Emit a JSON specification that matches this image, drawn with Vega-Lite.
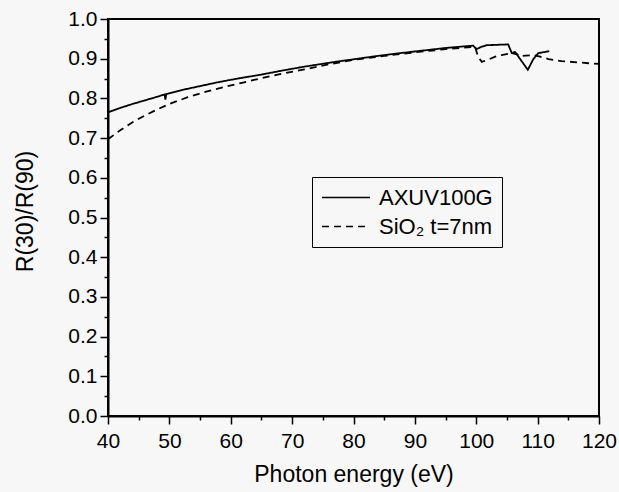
{
  "$schema": "https://vega.github.io/schema/vega-lite/v6.json",
  "width": 491,
  "height": 397,
  "autosize": {"type": "none"},
  "padding": {"left": 108, "top": 19, "right": 20, "bottom": 76},
  "background": "#f7f7f7",
  "config": {
    "view": {"stroke": "black", "strokeWidth": 2},
    "font": "Liberation Sans",
    "axis": {
      "domainColor": "black", "domainWidth": 2,
      "tickColor": "black", "tickWidth": 1.5,
      "labelColor": "black", "titleColor": "black",
      "grid": false,
      "labelFont": "Liberation Sans", "titleFont": "Liberation Sans",
      "labelFontSize": 21, "titleFontSize": 23, "titleFontWeight": "normal"
    }
  },
  "data": {"values": [
    {"series": "AXUV100G", "energy": 40, "ratio": 0.765},
    {"series": "AXUV100G", "energy": 42, "ratio": 0.776},
    {"series": "AXUV100G", "energy": 44, "ratio": 0.786},
    {"series": "AXUV100G", "energy": 46, "ratio": 0.795},
    {"series": "AXUV100G", "energy": 48, "ratio": 0.804},
    {"series": "AXUV100G", "energy": 49.2, "ratio": 0.810},
    {"series": "AXUV100G", "energy": 49.35, "ratio": 0.797},
    {"series": "AXUV100G", "energy": 49.5, "ratio": 0.811},
    {"series": "AXUV100G", "energy": 52, "ratio": 0.821},
    {"series": "AXUV100G", "energy": 55, "ratio": 0.831},
    {"series": "AXUV100G", "energy": 58, "ratio": 0.841},
    {"series": "AXUV100G", "energy": 61.5, "ratio": 0.851},
    {"series": "AXUV100G", "energy": 65, "ratio": 0.860},
    {"series": "AXUV100G", "energy": 68, "ratio": 0.869},
    {"series": "AXUV100G", "energy": 72, "ratio": 0.880},
    {"series": "AXUV100G", "energy": 77, "ratio": 0.892},
    {"series": "AXUV100G", "energy": 83, "ratio": 0.905},
    {"series": "AXUV100G", "energy": 87, "ratio": 0.913},
    {"series": "AXUV100G", "energy": 91, "ratio": 0.920},
    {"series": "AXUV100G", "energy": 95, "ratio": 0.927},
    {"series": "AXUV100G", "energy": 99.5, "ratio": 0.933},
    {"series": "AXUV100G", "energy": 100.05, "ratio": 0.924},
    {"series": "AXUV100G", "energy": 100.7, "ratio": 0.929},
    {"series": "AXUV100G", "energy": 101.7, "ratio": 0.934},
    {"series": "AXUV100G", "energy": 105.2, "ratio": 0.936},
    {"series": "AXUV100G", "energy": 105.8, "ratio": 0.914},
    {"series": "AXUV100G", "energy": 106.6, "ratio": 0.911},
    {"series": "AXUV100G", "energy": 108.4, "ratio": 0.872},
    {"series": "AXUV100G", "energy": 109.3, "ratio": 0.899},
    {"series": "AXUV100G", "energy": 110.1, "ratio": 0.914},
    {"series": "AXUV100G", "energy": 111.9, "ratio": 0.919},
    {"series": "SiO₂ t=7nm", "energy": 40, "ratio": 0.697},
    {"series": "SiO₂ t=7nm", "energy": 42, "ratio": 0.720},
    {"series": "SiO₂ t=7nm", "energy": 44, "ratio": 0.740},
    {"series": "SiO₂ t=7nm", "energy": 46, "ratio": 0.757},
    {"series": "SiO₂ t=7nm", "energy": 48, "ratio": 0.772},
    {"series": "SiO₂ t=7nm", "energy": 50, "ratio": 0.786},
    {"series": "SiO₂ t=7nm", "energy": 53, "ratio": 0.803},
    {"series": "SiO₂ t=7nm", "energy": 56, "ratio": 0.817},
    {"series": "SiO₂ t=7nm", "energy": 59, "ratio": 0.829},
    {"series": "SiO₂ t=7nm", "energy": 62, "ratio": 0.840},
    {"series": "SiO₂ t=7nm", "energy": 65, "ratio": 0.851},
    {"series": "SiO₂ t=7nm", "energy": 68, "ratio": 0.861},
    {"series": "SiO₂ t=7nm", "energy": 72, "ratio": 0.873},
    {"series": "SiO₂ t=7nm", "energy": 76, "ratio": 0.886},
    {"series": "SiO₂ t=7nm", "energy": 80, "ratio": 0.897},
    {"series": "SiO₂ t=7nm", "energy": 85, "ratio": 0.907},
    {"series": "SiO₂ t=7nm", "energy": 90, "ratio": 0.916},
    {"series": "SiO₂ t=7nm", "energy": 95, "ratio": 0.924},
    {"series": "SiO₂ t=7nm", "energy": 99.8, "ratio": 0.930},
    {"series": "SiO₂ t=7nm", "energy": 100.3, "ratio": 0.905},
    {"series": "SiO₂ t=7nm", "energy": 100.9, "ratio": 0.892},
    {"series": "SiO₂ t=7nm", "energy": 102, "ratio": 0.898},
    {"series": "SiO₂ t=7nm", "energy": 103.1, "ratio": 0.905},
    {"series": "SiO₂ t=7nm", "energy": 104.1, "ratio": 0.909},
    {"series": "SiO₂ t=7nm", "energy": 105.5, "ratio": 0.913},
    {"series": "SiO₂ t=7nm", "energy": 106.3, "ratio": 0.917},
    {"series": "SiO₂ t=7nm", "energy": 107, "ratio": 0.906},
    {"series": "SiO₂ t=7nm", "energy": 108, "ratio": 0.908},
    {"series": "SiO₂ t=7nm", "energy": 109.3, "ratio": 0.909},
    {"series": "SiO₂ t=7nm", "energy": 110.4, "ratio": 0.905},
    {"series": "SiO₂ t=7nm", "energy": 111.8, "ratio": 0.899},
    {"series": "SiO₂ t=7nm", "energy": 113.9, "ratio": 0.894},
    {"series": "SiO₂ t=7nm", "energy": 116.4, "ratio": 0.891},
    {"series": "SiO₂ t=7nm", "energy": 118.8, "ratio": 0.888},
    {"series": "SiO₂ t=7nm", "energy": 120, "ratio": 0.887}
  ]},
  "mark": {"type": "line", "color": "black", "strokeWidth": 1.8},
  "encoding": {
    "x": {
      "field": "energy", "type": "quantitative",
      "scale": {"domain": [40, 120], "nice": false, "zero": false},
      "axis": {
        "title": "Photon energy (eV)",
        "values": [40, 45, 50, 55, 60, 65, 70, 75, 80, 85, 90, 95, 100, 105, 110, 115, 120],
        "labelExpr": "datum.value % 10 === 0 ? datum.label : ''",
        "tickSize": {"expr": "datum.value % 10 === 0 ? 8 : 4"},
        "labelFlush": false, "labelOverlap": false, "labelPadding": 6,
        "titleY": 65, "titleBaseline": "alphabetic"
      }
    },
    "y": {
      "field": "ratio", "type": "quantitative",
      "scale": {"domain": [0, 1], "nice": false},
      "axis": {
        "title": "R(30)/R(90)",
        "values": [0, 0.05, 0.1, 0.15, 0.2, 0.25, 0.3, 0.35, 0.4, 0.45, 0.5, 0.55, 0.6, 0.65, 0.7, 0.75, 0.8, 0.85, 0.9, 0.95, 1],
        "labelExpr": "round(datum.value * 100) % 10 === 0 ? format(datum.value, '.1f') : ''",
        "tickSize": {"expr": "round(datum.value * 100) % 10 === 0 ? 8 : 4"},
        "labelOverlap": false, "labelPadding": 3,
        "titleX": -76, "titleY": 192, "titleBaseline": "alphabetic", "titleAlign": "center"
      }
    },
    "strokeDash": {
      "field": "series", "type": "nominal",
      "scale": {"domain": ["AXUV100G", "SiO₂ t=7nm"], "range": [[1, 0], [7, 5]]},
      "legend": {
        "orient": "none", "legendX": 204, "legendY": 158,
        "title": null,
        "strokeColor": "black", "padding": 9,
        "symbolType": "stroke", "symbolSize": 2304,
        "symbolStrokeWidth": 1.6, "symbolStrokeColor": "black",
        "labelFont": "Liberation Sans", "labelFontSize": 22, "labelColor": "black",
        "labelOffset": 8, "rowPadding": 6, "clipHeight": 23
      }
    }
  }
}
